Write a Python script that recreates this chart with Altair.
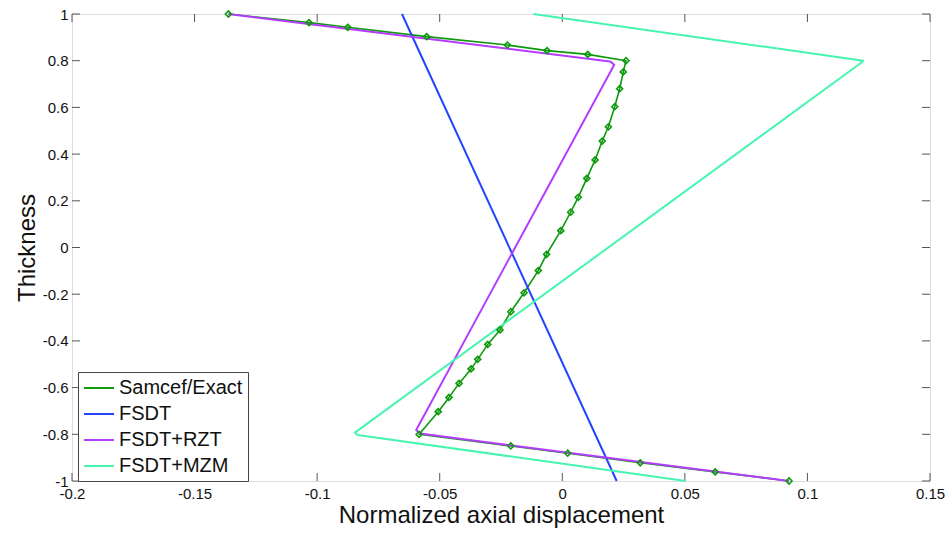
import altair as alt
import pandas as pd

series_names = ["Samcef/Exact", "FSDT", "FSDT+RZT", "FSDT+MZM"]
series_colors = ["#0c990c", "#2244ff", "#b43cff", "#45f5b0"]

samcef_x = [-0.1362, -0.1033, -0.0875, -0.0553, -0.0224, -0.0062, 0.0104, 0.0260,
            0.0249, 0.0234, 0.0214, 0.0188, 0.0163, 0.0134, 0.0100, 0.0065, 0.0034,
            -0.0006, -0.0064, -0.0098, -0.0156, -0.0210, -0.0254, -0.0304, -0.0345,
            -0.0372, -0.0421, -0.0462, -0.0506, -0.0584,
            -0.0210, 0.0022, 0.0318, 0.0624, 0.0925]
samcef_y = [1.0, 0.963, 0.943, 0.903, 0.867, 0.843, 0.827, 0.800,
            0.752, 0.680, 0.603, 0.517, 0.456, 0.375, 0.296, 0.215, 0.151,
            0.072, -0.029, -0.099, -0.194, -0.275, -0.353, -0.415, -0.479,
            -0.520, -0.582, -0.642, -0.703, -0.800,
            -0.850, -0.881, -0.922, -0.961, -1.0]

fsdt_x = [-0.0654, 0.0222]
fsdt_y = [1.0, -1.0]

rzt_x = [-0.1362, 0.0195, 0.0212, -0.0596, -0.0580, 0.0925]
rzt_y = [1.0, 0.797, 0.783, -0.782, -0.797, -1.0]

mzm_x = [-0.0118, 0.1228, 0.1215, -0.0846, -0.0835, 0.0503]
mzm_y = [1.0, 0.800, 0.788, -0.793, -0.803, -1.0]

x_ticks = [-0.2, -0.15, -0.1, -0.05, 0, 0.05, 0.1, 0.15]
y_ticks = [-1, -0.8, -0.6, -0.4, -0.2, 0, 0.2, 0.4, 0.6, 0.8, 1]

rows = []
for name, xs, ys in [("Samcef/Exact", samcef_x, samcef_y), ("FSDT", fsdt_x, fsdt_y),
                     ("FSDT+RZT", rzt_x, rzt_y), ("FSDT+MZM", mzm_x, mzm_y)]:
    for i, (xv, yv) in enumerate(zip(xs, ys)):
        rows.append({"series": name, "x": xv, "y": yv, "i": i,
                     "w": 1.6 if name == "Samcef/Exact" else 2.0})
df = pd.DataFrame(rows)
df_marks = df[df["series"] == "Samcef/Exact"]

W, H = 858, 467
FONT = "Liberation Sans"
AX = "#555555"
TL = 8

xsc = alt.Scale(domain=[-0.2, 0.15], nice=False, zero=False)
ysc = alt.Scale(domain=[-1, 1], nice=False, zero=False)

x_axis = alt.Axis(values=x_ticks, title="Normalized axial displacement", labelExpr="'' + datum.value",
                  ticks=False, domain=False, grid=False, labelFontSize=15, labelFont=FONT,
                  labelColor="#111", labelPadding=5, titleFontSize=24, titleFont=FONT,
                  titleFontWeight="normal", titleColor="#111", titlePadding=2, labelFlush=False)
y_axis = alt.Axis(values=y_ticks, title="Thickness", labelExpr="'' + datum.value",
                  ticks=False, domain=False, grid=False, labelFontSize=15, labelFont=FONT,
                  labelColor="#111", labelPadding=4, titleFontSize=24, titleFont=FONT,
                  titleFontWeight="normal", titleColor="#111", titlePadding=3, labelFlush=False)

lines = alt.Chart(df).mark_line(strokeJoin="round").encode(
    x=alt.X("x:Q", scale=xsc, axis=x_axis),
    y=alt.Y("y:Q", scale=ysc, axis=y_axis),
    color=alt.Color("series:N", scale=alt.Scale(domain=series_names, range=series_colors),
                    legend=alt.Legend(title=None, orient="none", legendX=6, legendY=358,
                                      strokeColor="#444", fillColor="white", padding=5,
                                      labelFontSize=20, labelFont=FONT, labelColor="#111",
                                      symbolType="M-1,0L2,0", symbolSize=400, symbolStrokeWidth=2,
                                      rowPadding=5, labelOffset=14)),
    strokeWidth=alt.StrokeWidth("w:Q", scale=None, legend=None),
    detail="series:N",
    order="i:Q",
)

marks = alt.Chart(df_marks).mark_point(shape="diamond", filled=False, size=36, strokeWidth=1.6,
                                       color=series_colors[0], opacity=1).encode(
    x=alt.X("x:Q", scale=xsc), y=alt.Y("y:Q", scale=ysc))

xt = pd.DataFrame({"x": x_ticks})
yt = pd.DataFrame({"y": y_ticks})
bottom_ticks = alt.Chart(xt).mark_rule(color=AX, strokeWidth=1).encode(
    x=alt.X("x:Q", scale=xsc), y=alt.value(H), y2=alt.value(H - TL))
top_ticks = alt.Chart(xt).mark_rule(color=AX, strokeWidth=1).encode(
    x=alt.X("x:Q", scale=xsc), y=alt.value(0), y2=alt.value(TL))
left_ticks = alt.Chart(yt).mark_rule(color=AX, strokeWidth=1).encode(
    y=alt.Y("y:Q", scale=ysc), x=alt.value(0), x2=alt.value(TL))
right_ticks = alt.Chart(yt).mark_rule(color=AX, strokeWidth=1).encode(
    y=alt.Y("y:Q", scale=ysc), x=alt.value(W), x2=alt.value(W - TL))

chart = alt.layer(bottom_ticks, top_ticks, left_ticks, right_ticks, lines, marks).properties(
    width=W, height=H,
    autosize=alt.AutoSizeParams(type="none"),
    padding={"left": 72, "top": 14, "right": 19, "bottom": 52},
).configure_view(stroke=AX, strokeWidth=1.2).configure(background="white")

chart.save("out.html", embed_options={"renderer": "svg", "actions": False})
